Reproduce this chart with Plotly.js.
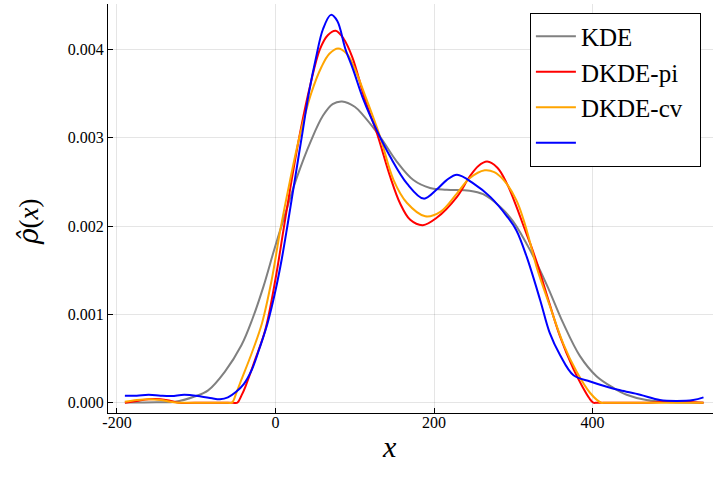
<!DOCTYPE html>
<html>
<head>
<meta charset="utf-8">
<script src="https://cdn.plot.ly/plotly-3.0.1.min.js"></script>
<style>
  html, body { margin: 0; padding: 0; background: #fff; }
  #chart { width: 713px; height: 487px; }
</style>
</head>
<body>
<div id="chart"></div>
<script>
// ---- Data ----
const seriesNames = ["KDE", "DKDE-pi", "DKDE-cv\u00a0\u00a0", ""];
const seriesColors = ["#808080", "#ff0000", "#ffa500", "#0000ff"];

const kdeX = [-190, -150, -127, -102, -85, -64, -43, -29, -15, -2, 10, 27, 45, 60, 72, 84, 100, 111, 132, 153, 174, 195, 216, 245, 262, 283, 300, 321, 342, 363, 384, 405, 426, 443, 468, 500, 540];
const kdeY = [0.000002, 0.000005, 0.00001, 0.00007, 0.00014, 0.00035, 0.00065, 0.00095, 0.00132, 0.00172, 0.00207, 0.00255, 0.00297, 0.00325, 0.00338, 0.00341, 0.00335, 0.00325, 0.00301, 0.00273, 0.00252, 0.00243, 0.00241, 0.0024, 0.00236, 0.00222, 0.00205, 0.00173, 0.00134, 0.0009, 0.00053, 0.0003, 0.00017, 0.00009, 0.00003, 0.000005, 0];

const piX = [-190, -175, -160, -145, -132, -122, -90, -54, -48, -43, -38, -26, -13, 0, 10, 20, 32, 44, 56, 66, 76, 86, 97, 113, 128, 145, 157, 170, 186, 203, 229, 245, 256, 267, 280, 292, 304, 313, 321, 330, 342, 359, 376, 388, 396, 401, 406, 440, 470, 490, 505, 520, 540];
const piY = [0, 0.00002, 0.00004, 0.00004, 0.00002, 0, 0, 0, 0, 0.00008, 0.00018, 0.00048, 0.00082, 0.0014, 0.00195, 0.0025, 0.0031, 0.0036, 0.004, 0.00416, 0.00421, 0.00412, 0.00391, 0.00343, 0.00305, 0.00255, 0.00226, 0.00207, 0.00201, 0.00209, 0.00233, 0.00256, 0.00268, 0.00273, 0.00266, 0.00248, 0.00222, 0.002, 0.00181, 0.00158, 0.00123, 0.00075, 0.00038, 0.00017, 0.00005, 0, 0, 0, 0, 0.00001, 0.00002, 0.00001, 0];

const cvX = [-190, -175, -160, -145, -132, -122, -90, -60, -55, -49, -43, -30, -17, -5, 6, 18, 30, 45, 58, 68, 79, 90, 100, 115, 132, 149, 166, 189, 208, 229, 245, 264, 276, 288, 304, 313, 321, 330, 346, 363, 380, 397, 411, 416, 470, 540];
const cvY = [0.00001, 0.00003, 0.00004, 0.00003, 0.00001, 0, 0, 0, 0, 0.00012, 0.00026, 0.00056, 0.0009, 0.00138, 0.00195, 0.0025, 0.003, 0.0035, 0.0038, 0.00395, 0.00401, 0.00395, 0.00378, 0.00343, 0.00301, 0.00252, 0.00226, 0.00211, 0.00216, 0.00237, 0.00254, 0.00263, 0.00261, 0.00252, 0.00229, 0.00207, 0.00182, 0.00152, 0.0011, 0.00067, 0.00035, 0.00011, 0, 0, 0, 0];

const blueX = [-190, -175, -160, -145, -131, -115, -94, -80, -70, -60, -50, -40, -30, -20, -10, 0, 8, 15, 24, 33, 42, 51, 60, 70, 78, 88, 98, 111, 128, 145, 166, 187, 203, 216, 229, 250, 271, 292, 304, 317, 334, 346, 359, 376, 397, 418, 435, 460, 485, 506, 527, 540];
const blueY = [0.00008, 0.00008, 0.00009, 0.00008, 0.000076, 0.00009, 0.00007, 0.00005, 0.00004, 0.00006, 0.00012, 0.00021, 0.00037, 0.00062, 0.0009, 0.00127, 0.00163, 0.002, 0.0025, 0.003, 0.0035, 0.0039, 0.00423, 0.00439, 0.00432, 0.00401, 0.00377, 0.00343, 0.00308, 0.00278, 0.00248, 0.00231, 0.00241, 0.00252, 0.00258, 0.00248, 0.00233, 0.00211, 0.00195, 0.00165, 0.00116, 0.00079, 0.00054, 0.00031, 0.00024, 0.00018, 0.00014, 0.00009, 0.00003, 0.00002, 0.00003, 0.00006];

const xTickVals = [-200, 0, 200, 400];
const xTickText = ["-200", "0", "200", "400"];
const yTickVals = [0, 0.001, 0.002, 0.003, 0.004];
const yTickText = ["0.000", "0.001", "0.002", "0.003", "0.004"];

const xs = [kdeX, piX, cvX, blueX];
const ys = [kdeY, piY, cvY, blueY];

const serif = "Liberation Serif";

const traces = xs.map((x, i) => ({
  type: "scatter",
  mode: "lines",
  x: x,
  y: ys[i],
  name: seriesNames[i],
  line: { color: seriesColors[i], width: 2, shape: "spline", smoothing: 1 },
  hoverinfo: "skip"
}));

const layout = {
  width: 713,
  height: 487,
  margin: { l: 108, r: 0, t: 4, b: 74, pad: 0 },
  paper_bgcolor: "#ffffff",
  plot_bgcolor: "#ffffff",
  font: { family: serif, size: 16, color: "#000" },
  showlegend: true,
  legend: {
    x: 0.980, xanchor: "right",
    y: 0.979, yanchor: "top",
    bgcolor: "#ffffff",
    bordercolor: "#000000",
    borderwidth: 1,
    font: { family: serif, size: 25, color: "#000" },
    itemwidth: 40,
    tracegroupgap: 0
  },
  xaxis: {
    range: [-211.3, 552],
    tickmode: "array",
    tickvals: xTickVals,
    ticktext: xTickText,
    ticks: "inside",
    ticklen: 5,
    tickcolor: "#000",
    ticklabelstandoff: -5,
    showline: true,
    linecolor: "#000",
    linewidth: 1,
    showgrid: true,
    gridcolor: "rgba(0,0,0,0.1)",
    gridwidth: 1,
    zeroline: false,
    tickfont: { family: serif, size: 16, color: "#000" }
  },
  yaxis: {
    range: [-0.0001166, 0.004513],
    tickmode: "array",
    tickvals: yTickVals,
    ticktext: yTickText,
    ticks: "inside",
    ticklen: 5,
    tickcolor: "#000",
    showline: true,
    linecolor: "#000",
    linewidth: 1,
    showgrid: true,
    gridcolor: "rgba(0,0,0,0.1)",
    gridwidth: 1,
    zeroline: false,
    tickfont: { family: serif, size: 16, color: "#000" }
  },
  annotations: [
    {
      text: "<i>x</i>",
      xref: "paper", yref: "paper",
      x: 0.466, y: -0.083,
      xanchor: "center", yanchor: "middle",
      showarrow: false,
      font: { family: serif, size: 30, color: "#000" }
    },
    {
      text: "<span style=\"font-family:DejaVu Serif\"><i>ρ\u0302</i></span>(<i>x</i>)",
      xref: "paper", yref: "paper",
      x: -0.13, y: 0.467,
      xanchor: "center", yanchor: "middle",
      textangle: -90,
      showarrow: false,
      font: { family: serif, size: 27, color: "#000" }
    }
  ]
};

Plotly.newPlot("chart", traces, layout, { displayModeBar: false, staticPlot: true });
</script>
</body>
</html>
